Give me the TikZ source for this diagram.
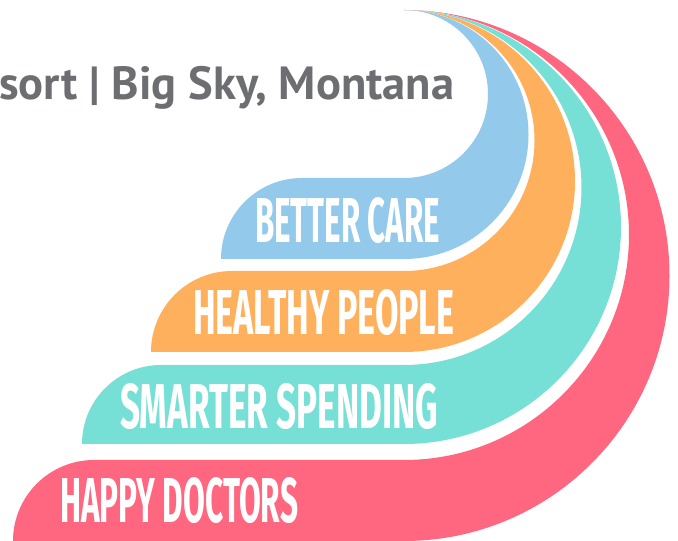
\documentclass[tikz,border=0pt]{standalone}
\usepackage{fontspec}
\usepackage{graphicx}
\newfontfamily\titlefont{PT Sans}
\newfontfamily\lblfont{Fira Sans}

\definecolor{titlegrey}{HTML}{6D6E71}
\definecolor{blueband}{HTML}{93C9EA}
\definecolor{orangeband}{HTML}{FEB05D}
\definecolor{tealband}{HTML}{76DFD6}
\definecolor{pinkband}{HTML}{FF6680}

% squeeze a label into the width it has in the picture
\newcommand\bandtext[2]{\resizebox{#1}{45pt}{\lblfont\bfseries #2}}

\tikzset{
  lbl/.style={anchor=base west, inner sep=0pt, text=white},
}

\begin{document}
\begin{tikzpicture}[x=1pt, y=1pt]

    \useasboundingbox (0,0) rectangle (678,541);

    % bands, biggest first: name/outer radius/inner radius/left end
    \foreach \name/\R/\r/\xl in {pinkband/265.5/225/13, tealband/217/177.5/82,
                                orangeband/171/130.5/151, blueband/124.5/84/221}{
        \pgfmathsetmacro\yb{531-2*\R}
        \pgfmathsetmacro\yt{531-2*\r}
        \pgfmathsetmacro\h{\yt-\yb}
        \fill[\name] (\xl,\yb) -- (404,\yb)
            arc[start angle=-90, end angle=90, radius=\R pt]
            arc[start angle=90, end angle=-90, radius=\r pt]
            -- (\xl+\h,\yt)
            arc[start angle=90, end angle=180, radius=\h pt] -- cycle;
    }

    \node[anchor=base west, inner sep=0pt, text=titlegrey,
          font=\titlefont\bfseries\fontsize{46.5}{52}\selectfont] (title)
        at (-1,441) {sort | Big Sky, Montana};

    \node[lbl] (better) at (255,298) {\bandtext{185pt}{BETTER CARE}};
    \node[lbl] (healthy) at (193,206) {\bandtext{261pt}{HEALTHY PEOPLE}};
    \node[lbl] (smarter) at (120,112) {\bandtext{318pt}{SMARTER SPENDING}};
    \node[lbl] (happy) at (60,18) {\bandtext{238pt}{HAPPY DOCTORS}};

  \end{tikzpicture}
\end{document}
